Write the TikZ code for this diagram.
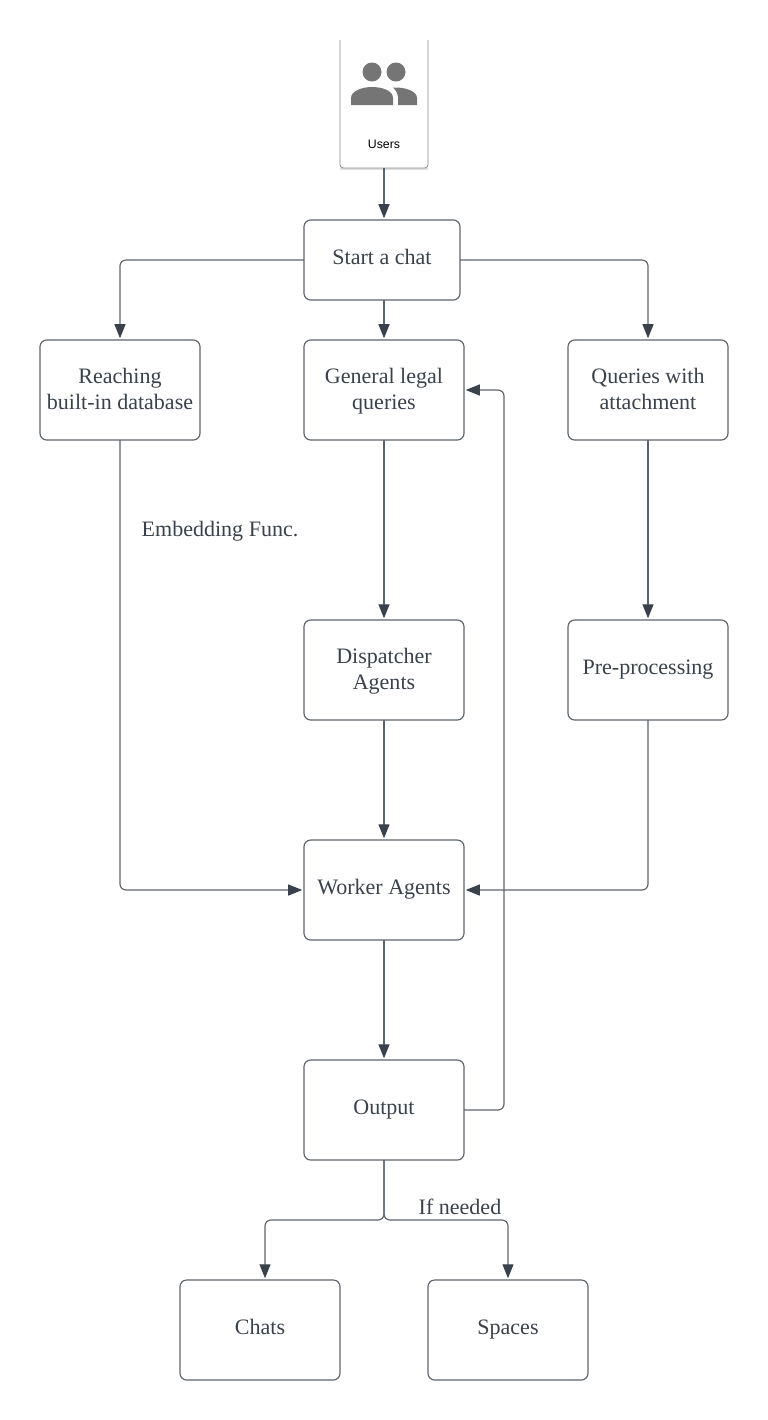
\documentclass[tikz,border=0pt]{standalone}
\usepackage{fontspec}
\setmainfont{Liberation Serif}
\newfontfamily\iconfont{Liberation Sans}
\usetikzlibrary{positioning,%
  arrows.meta%
}
\definecolor{inkgray}{HTML}{3A414A}
\definecolor{linegray}{HTML}{5F656D}
\definecolor{icongray}{HTML}{757575}
\tikzset{flowbox/.style={draw=linegray,line width=1pt,rounded corners=0.2cm,text=inkgray,align=center,
    minimum width=4.8cm,minimum height=3cm,inner sep=0pt,outer sep=0pt,
    execute at begin node=\strut,execute at end node={\rule[-8.3pt]{0pt}{0pt}},
    font=\fontsize{18.8}{22.4}\selectfont},
  flowpair/.style={flowbox,text height=33.7pt,text depth=0pt},
  flowtext/.style={text=inkgray,inner sep=0pt,font=\fontsize{18.8}{22}\selectfont},
  flowline/.style={draw=linegray,line width=1pt,rounded corners=0.18cm},
  flowarrow/.style={flowline,-{Triangle[length=0.42cm,width=0.33cm,color=inkgray]},shorten >=1.5pt}}
\begin{document}
\begin{tikzpicture}[x=0.03cm,y=-0.03cm]
            \useasboundingbox (0,0) rectangle (768,1420);

            \node[flowbox,minimum width=4.68cm,minimum height=2.4cm] (start) at (382,260) {Start a chat};
            \node[flowpair] (general) at (384,390) {General legal\\queries};
            \node[flowpair,left=3.12cm of general] (reaching) {Reaching\\built-in database};
            \node[flowpair,right=3.12cm of general] (queries) {Queries with\\attachment};
            \node[flowpair,below=5.4cm of general] (dispatcher) {Dispatcher\\Agents};
            \node[flowbox,below=5.4cm of queries] (preproc) {Pre-processing};
            \node[flowbox,below=3.6cm of dispatcher] (worker) {Worker Agents};
            \node[flowbox,below=3.6cm of worker] (output) {Output};
            \node[flowbox] (chats) at (260,1330) {Chats};
            \node[flowbox] (spaces) at (508,1330) {Spaces};

            %Users card, open at the top
            \node[minimum width=2.64cm,minimum height=3.84cm,inner sep=0pt,outer sep=0pt] (users) at (384,104) {};
            \node[text=black,inner sep=0pt,font=\iconfont\fontsize{10.5}{12}\selectfont] (userslabel) at (384,144) {Users};
            \draw[draw=black!12,line width=1.6pt,rounded corners=0.1cm] ([yshift=-0.04cm]users.south west) -- ([yshift=-0.04cm]users.south east);
            \draw[draw=linegray!75,line width=0.7pt,rounded corners=0.1cm] (users.north west) -- (users.south west) -- (users.south east) -- (users.north east);
            \fill[icongray] (372,72) circle (9.5);
            \fill[icongray] (396,72) circle (9.5);
            \fill[icongray] (351,105) -- (351,98) .. controls (351,91) and (362,87) .. (372,87) .. controls (383,87) and (393,91) .. (393,98) -- (393,105) -- cycle;
            \fill[icongray] (398,105) -- (398,98) .. controls (398,94) and (396,90) .. (393,87.5) .. controls (405,87) and (417,91) .. (417,98) -- (417,105) -- cycle;

            \node[flowtext] (embedding) at (220,531) {Embedding Func.};
            \node[flowtext] (ifneeded) at (460,1207) {If needed};
            \coordinate (split) at (384,1220);
            \coordinate (chatsin) at (265,1280);
            \coordinate (backup) at (504,390);

            \draw[flowarrow] (users.south) -- (users.south |- start.north);
            \draw[flowarrow] (start.west) -| (reaching.north);
            \draw[flowarrow] (general.north |- start.south) -- (general.north);
            \draw[flowarrow] (start.east) -| (queries.north);

            \draw[flowarrow] (general) -- (dispatcher);
            \draw[flowarrow] (queries) -- (preproc);
            \draw[flowarrow] (dispatcher) -- (worker);
            \draw[flowarrow] (reaching.south) |- (worker.west);
            \draw[flowarrow] (preproc.south) |- (worker.east);
            \draw[flowarrow] (worker) -- (output);

            %feedback past the dispatcher
            \draw[flowarrow] (output.east) -| (backup) -- (general.east);

            \draw[flowarrow] (output.south) -- (split) -| (chatsin);
            \draw[flowarrow] (output.south) -- (split) -| (spaces.north);
        \end{tikzpicture}
\end{document}
